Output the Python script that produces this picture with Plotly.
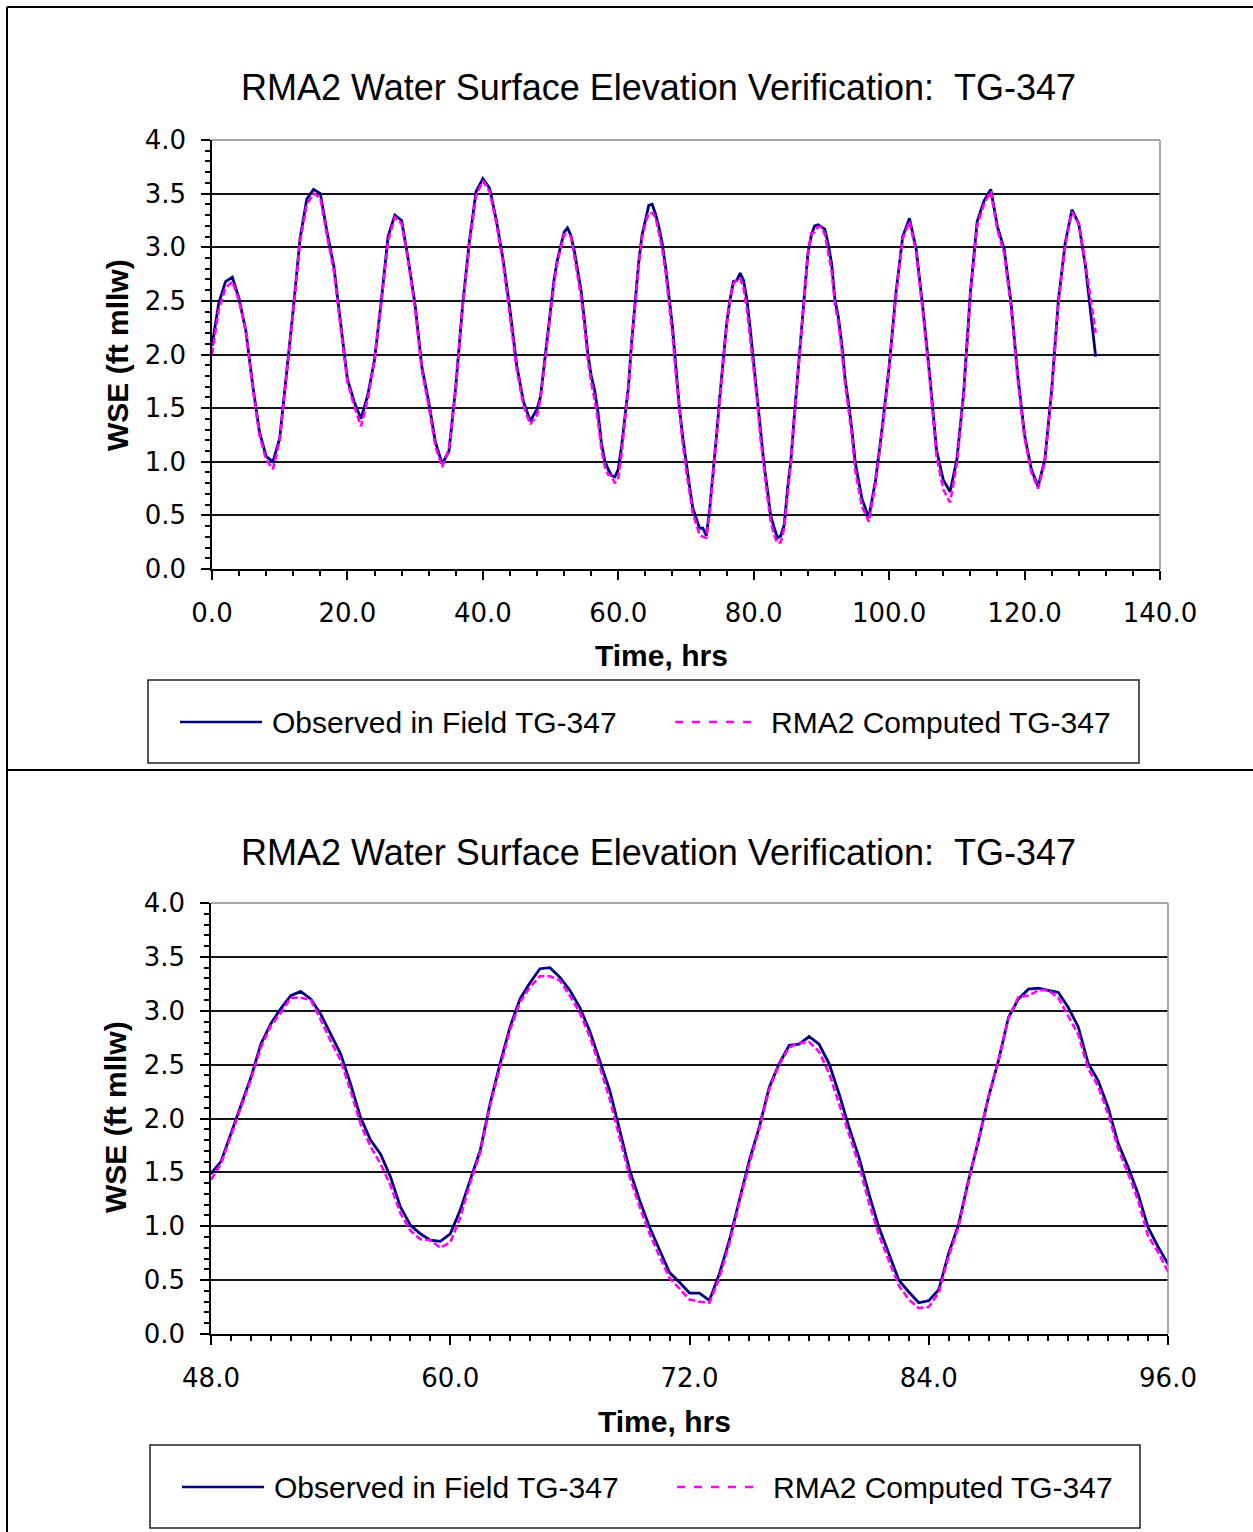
import plotly.graph_objects as go

W, H = 1253, 1532

# ---- sample times (hours) ----
hours_early = list(range(0, 48))
hours_mid = [48 + 0.5 * k for k in range(97)]
hours_late = list(range(97, 131)) + [130.5]
time_hr = hours_early + hours_mid + hours_late

# ---- observed water surface elevation, ft mllw ----
observed_early = [2.08, 2.48, 2.68, 2.72, 2.52, 2.22, 1.72, 1.28, 1.05, 1.00,
                  1.22, 1.80, 2.42, 3.08, 3.45, 3.54, 3.50, 3.14, 2.82, 2.29,
                  1.77, 1.56, 1.40, 1.62, 1.95, 2.50, 3.10, 3.30, 3.25, 2.88,
                  2.46, 1.88, 1.56, 1.18, 0.98, 1.10, 1.70, 2.45, 3.05, 3.52,
                  3.64, 3.55, 3.25, 2.88, 2.42, 1.90, 1.56, 1.38]
observed_mid = [1.49, 1.60, 1.86, 2.14, 2.38, 2.69, 2.88, 3.02, 3.14, 3.18,
                3.11, 2.97, 2.78, 2.60, 2.32, 2.01, 1.80, 1.67, 1.46, 1.18,
                1.01, 0.93, 0.87, 0.86, 0.93, 1.15, 1.43, 1.70, 2.14, 2.51,
                2.85, 3.11, 3.26, 3.39, 3.40, 3.31, 3.19, 3.03, 2.81, 2.54,
                2.26, 1.89, 1.52, 1.24, 0.99, 0.78, 0.57, 0.48, 0.38, 0.38,
                0.31, 0.56, 0.87, 1.24, 1.61, 1.92, 2.29, 2.51, 2.68, 2.69,
                2.76, 2.69, 2.51, 2.23, 1.92, 1.64, 1.30, 0.99, 0.75, 0.50,
                0.39, 0.29, 0.31, 0.41, 0.75, 1.02, 1.43, 1.80, 2.20, 2.54,
                2.94, 3.11, 3.20, 3.21, 3.19, 3.17, 3.03, 2.85, 2.51, 2.35,
                2.10, 1.77, 1.55, 1.30, 0.99, 0.81, 0.65]
observed_late = [0.48, 0.83, 1.33, 1.89, 2.57, 3.10, 3.27, 2.98, 2.42, 1.80,
                 1.11, 0.83, 0.72, 1.02, 1.64, 2.58, 3.24, 3.43, 3.54, 3.19,
                 2.98, 2.48, 1.80, 1.25, 0.93, 0.77, 1.02, 1.67, 2.51, 3.04,
                 3.35, 3.22, 2.82, 2.29, 1.98]

# ---- RMA2 computed water surface elevation, ft mllw ----
computed_early = [2.00, 2.42, 2.62, 2.68, 2.50, 2.22, 1.70, 1.25, 1.02, 0.93,
                  1.20, 1.78, 2.40, 3.05, 3.40, 3.50, 3.46, 3.10, 2.78, 2.25,
                  1.74, 1.52, 1.33, 1.58, 1.95, 2.48, 3.06, 3.28, 3.22, 2.86,
                  2.42, 1.85, 1.52, 1.14, 0.95, 1.12, 1.68, 2.44, 3.02, 3.48,
                  3.62, 3.52, 3.22, 2.85, 2.38, 1.86, 1.52, 1.35]
computed_mid = [1.43, 1.58, 1.84, 2.12, 2.36, 2.66, 2.86, 2.98, 3.12, 3.12,
                3.10, 2.92, 2.72, 2.54, 2.26, 1.95, 1.74, 1.58, 1.38, 1.12,
                0.96, 0.88, 0.87, 0.80, 0.85, 1.08, 1.40, 1.68, 2.12, 2.48,
                2.82, 3.08, 3.22, 3.32, 3.32, 3.28, 3.14, 2.98, 2.76, 2.48,
                2.18, 1.82, 1.46, 1.18, 0.93, 0.72, 0.52, 0.42, 0.32, 0.30,
                0.29, 0.52, 0.84, 1.22, 1.58, 1.90, 2.27, 2.50, 2.66, 2.70,
                2.71, 2.62, 2.42, 2.14, 1.86, 1.57, 1.22, 0.92, 0.68, 0.45,
                0.32, 0.24, 0.25, 0.38, 0.72, 1.00, 1.42, 1.80, 2.20, 2.54,
                2.93, 3.13, 3.14, 3.19, 3.19, 3.12, 2.95, 2.78, 2.46, 2.30,
                2.04, 1.72, 1.49, 1.24, 0.91, 0.76, 0.58]
computed_late = [0.44, 0.80, 1.30, 1.86, 2.55, 3.08, 3.24, 2.95, 2.38, 1.76,
                 1.05, 0.74, 0.62, 0.98, 1.62, 2.55, 3.20, 3.40, 3.52, 3.16,
                 2.94, 2.44, 1.76, 1.22, 0.90, 0.75, 1.00, 1.65, 2.48, 3.02,
                 3.33, 3.22, 2.84, 2.40, 2.20]

observed = observed_early + observed_mid + observed_late
computed = computed_early + computed_mid + computed_late

chart_title = "RMA2 Water Surface Elevation Verification:\u00a0\u00a0TG-347"
x_title = "Time, hrs"
y_title = "WSE (ft mllw)"
observed_name = "Observed in Field TG-347"
computed_name = "RMA2 Computed TG-347"

NAVY = "#000080"
MAGENTA = "#FF00FF"
FONT = "Liberation Sans, Arial, sans-serif"
TICK_FONT = "DejaVu Sans, Verdana, sans-serif"


def px(x):
    return x / W


def py(y):
    return 1 - y / H


fig = go.Figure()

for xa, ya in (("x", "y"), ("x2", "y2")):
    fig.add_trace(go.Scatter(x=time_hr, y=observed, mode="lines", name=observed_name,
                             line=dict(color=NAVY, width=2.8),
                             xaxis=xa, yaxis=ya, showlegend=False))
    fig.add_trace(go.Scatter(x=time_hr, y=computed, mode="lines", name=computed_name,
                             line=dict(color=MAGENTA, width=2.6, dash="7px,3px"),
                             xaxis=xa, yaxis=ya, showlegend=False))

tick_font = dict(family=TICK_FONT, size=26, color="black")


def x_axis(domain, rng, dtick, minor, anchor):
    return dict(domain=domain, range=rng, dtick=dtick, tick0=rng[0], tickformat=".1f",
                ticks="outside", ticklen=9, tickwidth=1.5, tickcolor="black",
                showline=True, linecolor="black", linewidth=1.5,
                showgrid=False, zeroline=False, anchor=anchor, automargin=False,
                tickfont=tick_font, ticklabelstandoff=11,
                minor=dict(dtick=minor, ticks="outside", ticklen=5, tickwidth=1.5,
                           tickcolor="black", showgrid=False))


def y_axis(domain, anchor):
    return dict(domain=domain, range=[0, 4], dtick=0.5, tick0=0, tickformat=".1f",
                ticks="outside", ticklen=9, tickwidth=1.5, tickcolor="black",
                showline=True, linecolor="black", linewidth=1.5,
                showgrid=True, gridcolor="#141414", gridwidth=1.5,
                zeroline=False, anchor=anchor, automargin=False,
                tickfont=tick_font, ticklabelstandoff=10,
                minor=dict(dtick=0.1, ticks="outside", ticklen=5, tickwidth=1.5,
                           tickcolor="black", showgrid=False))


fig.update_layout(
    width=W, height=H, autosize=False,
    margin=dict(l=0, r=0, t=0, b=0, pad=0, autoexpand=False),
    paper_bgcolor="white", plot_bgcolor="white",
    showlegend=False,
    xaxis=x_axis([px(212), px(1160)], [0, 140], 20, 4, "y"),
    yaxis=y_axis([py(569), py(140)], "x"),
    xaxis2=x_axis([px(211), px(1168)], [48, 96], 12, 1, "y2"),
    yaxis2=y_axis([py(1334), py(903)], "x2"),
)

shapes = []
# outer frames around the two charts
shapes.append(dict(type="line", xref="paper", yref="paper", x0=px(7), x1=1.0,
                   y0=py(7), y1=py(7), line=dict(color="black", width=2)))
shapes.append(dict(type="line", xref="paper", yref="paper", x0=px(7), x1=px(7),
                   y0=py(7), y1=0, line=dict(color="black", width=2)))
shapes.append(dict(type="line", xref="paper", yref="paper", x0=px(7), x1=1.0,
                   y0=py(770), y1=py(770), line=dict(color="black", width=2)))

# grey plot-area border on top and right
for xr, yr in (("x domain", "y domain"), ("x2 domain", "y2 domain")):
    shapes.append(dict(type="line", xref=xr, yref=yr, x0=0, x1=1, y0=1, y1=1,
                       line=dict(color="#8a8a8a", width=1.5), layer="above"))
    shapes.append(dict(type="line", xref=xr, yref=yr, x0=1, x1=1, y0=0, y1=1,
                       line=dict(color="#8a8a8a", width=1.5), layer="above"))

annotations = []


def add_text(text, x, y, size, bold=False, xanchor="center", angle=0):
    annotations.append(dict(text=f"<b>{text}</b>" if bold else text,
                            x=px(x), y=py(y), xref="paper", yref="paper",
                            xanchor=xanchor, yanchor="middle", showarrow=False,
                            textangle=angle,
                            font=dict(family=FONT, size=size, color="black")))


# legend panels drawn for each chart
legend_boxes = [
    dict(box=(148, 680, 1139, 763), row=722, obs=(180, 262, 270), comp=(675, 758, 769)),
    dict(box=(150, 1445, 1140, 1528), row=1487, obs=(182, 264, 272), comp=(677, 760, 771)),
]
for lg in legend_boxes:
    x0, y0, x1, y1 = lg["box"]
    shapes.append(dict(type="rect", xref="paper", yref="paper",
                       x0=px(x0), x1=px(x1), y0=py(y0), y1=py(y1),
                       line=dict(color="#202020", width=1.5), fillcolor="white"))
    r = lg["row"]
    a, b, t = lg["obs"]
    shapes.append(dict(type="line", xref="paper", yref="paper", x0=px(a), x1=px(b),
                       y0=py(r), y1=py(r), line=dict(color=NAVY, width=2.6)))
    add_text(observed_name, t, r, 30, xanchor="left")
    a, b, t = lg["comp"]
    shapes.append(dict(type="line", xref="paper", yref="paper", x0=px(a), x1=px(b),
                       y0=py(r), y1=py(r), line=dict(color=MAGENTA, width=2.6, dash="8px,9px")))
    add_text(computed_name, t, r, 30, xanchor="left")

# titles
add_text(chart_title, 658, 88, 36)
add_text(chart_title, 658, 852, 36)
add_text(x_title, 661, 656, 30, bold=True)
add_text(x_title, 664, 1421, 30, bold=True)
add_text(y_title, 117, 355, 30, bold=True, angle=-90)
add_text(y_title, 115, 1117, 30, bold=True, angle=-90)

fig.update_layout(shapes=shapes, annotations=annotations)

fig.write_html("out.html")
